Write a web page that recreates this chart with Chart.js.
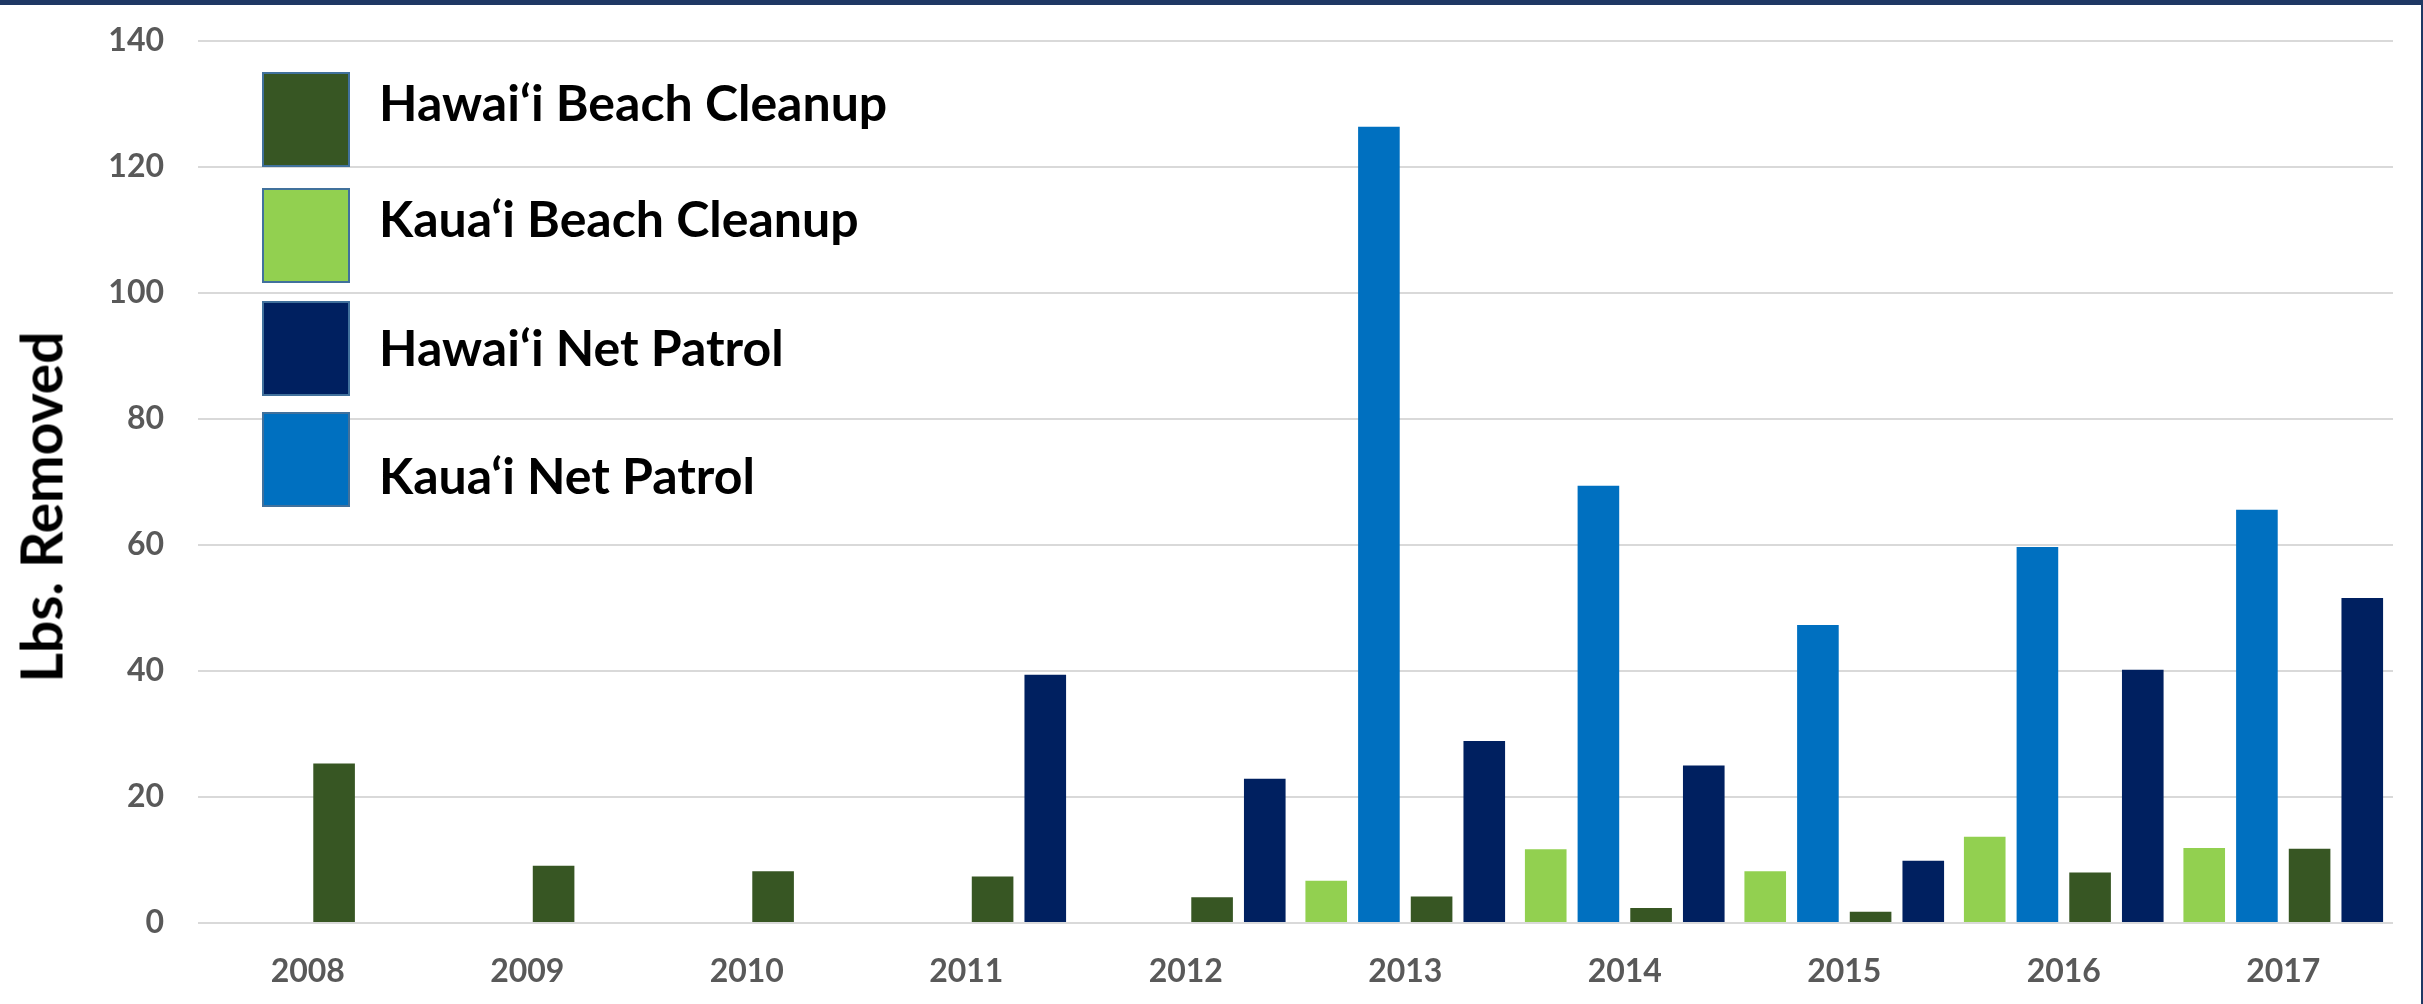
<!doctype html>
<html lang="en">

<head>
    <meta charset="utf-8" />
    <title>Lbs. Removed</title>
    <script src="https://cdn.jsdelivr.net/npm/chart.js"></script>
    <style>
        body { margin: 0; background: #ffffff; }
        #wrap { position: relative; width: 2423px; height: 1004px; overflow: hidden; background: #ffffff; }
        #topBar { position: absolute; left: 0; top: 0; width: 2423px; height: 5px; background: #1F3864; }
        #rightBar { position: absolute; left: 2421px; top: 0; width: 2px; height: 1004px; background: #1F3864; }
        #yTitle {
            position: absolute; left: 41px; top: 507px;
            transform: translate(-50%, -50%) rotate(-90deg);
            font: bold 57px Lato; line-height: 1; color: #000; white-space: nowrap;
        }
        .legend-box { position: absolute; left: 262px; width: 88px; height: 95px; box-sizing: border-box; border: 2px solid #41719C; }
        .legend-text { position: absolute; left: 379px; font: bold 50px Lato; line-height: 1; color: #000; white-space: nowrap; }
    </style>
</head>

<body>
    <div id="wrap">
        <canvas id="chartLbs" width="2423" height="1004"></canvas>
        <div id="topBar"></div>
        <div id="rightBar"></div>
        <div id="yTitle">Lbs. Removed</div>
        <div id="legend"></div>
    </div>
    <script>
        const YEARS = ['2008', '2009', '2010', '2011', '2012', '2013', '2014', '2015', '2016', '2017'];
        const HAWAII_BEACH = [25.3, 9.1, 8.2, 7.4, 4.1, 4.2, 2.4, 1.8, 8.0, 11.8];
        const KAUAI_BEACH = [null, null, null, null, null, 6.7, 11.7, 8.2, 13.7, 11.9];
        const HAWAII_NET = [null, null, null, 39.4, 22.9, 28.9, 25.0, 9.9, 40.2, 51.6];
        const KAUAI_NET = [null, null, null, null, null, 126.4, 69.4, 47.3, 59.7, 65.6];
        const SERIES_NAMES = ['Hawai‘i Beach Cleanup', 'Kaua‘i Beach Cleanup', 'Hawai‘i Net Patrol', 'Kaua‘i Net Patrol'];
        const Y_MIN = 0;
        const Y_MAX = 140;
        const Y_STEP = 20;

        const COLORS = ['#375623', '#92D050', '#002060', '#0070C0'];
        const VALUES = [HAWAII_BEACH, KAUAI_BEACH, HAWAII_NET, KAUAI_NET];

        // bars sit in the group as: Kaua'i beach, Kaua'i net, Hawai'i beach, Hawai'i net
        const BAR_ORDER = [1, 3, 0, 2];

        let datasets = [];
        for (let i of BAR_ORDER) {
            datasets.push({
                label: SERIES_NAMES[i],
                data: VALUES[i],
                backgroundColor: COLORS[i],
                categoryPercentage: 0.96,
                barPercentage: 0.79
            });
        }

        // hand placed legend, as in the original slide
        const legendBoxTops = [72, 188, 301, 412];
        const legendTextTops = [77, 193, 322, 450];
        const legend = document.getElementById('legend');
        for (let i = 0; i < SERIES_NAMES.length; i++) {
            const box = document.createElement('div');
            box.className = 'legend-box';
            box.style.top = legendBoxTops[i] + 'px';
            box.style.background = COLORS[i];
            legend.appendChild(box);
            const text = document.createElement('div');
            text.className = 'legend-text';
            text.style.top = legendTextTops[i] + 'px';
            text.innerText = SERIES_NAMES[i];
            legend.appendChild(text);
        }

        const ctx = document.getElementById('chartLbs');
        const myChart = new Chart(ctx, {
            type: 'bar',
            data: {
                labels: YEARS,
                datasets: datasets
            },
            options: {
                responsive: false,
                animation: false,
                layout: { padding: { left: 14, top: 41, right: 30, bottom: 0 } },
                plugins: {
                    legend: { display: false },
                    tooltip: { enabled: false }
                },
                scales: {
                    x: {
                        grid: { display: false, drawTicks: false },
                        border: { display: false },
                        ticks: {
                            color: '#595959',
                            padding: 29,
                            font: { family: 'Lato', weight: 'bold', size: 32 }
                        },
                        afterFit: (s) => { s.height = 81; }
                    },
                    y: {
                        min: Y_MIN,
                        max: Y_MAX,
                        grid: { color: '#D9D9D9', lineWidth: 2, drawTicks: false },
                        border: { display: false },
                        ticks: {
                            stepSize: Y_STEP,
                            color: '#595959',
                            padding: 34,
                            font: { family: 'Lato', weight: 'bold', size: 32 }
                        },
                        afterFit: (s) => {
                            s.width = 184;
                            s.paddingTop = 0;
                            s.paddingBottom = 0;
                        }
                    }
                }
            }
        });
    </script>
</body>

</html>
